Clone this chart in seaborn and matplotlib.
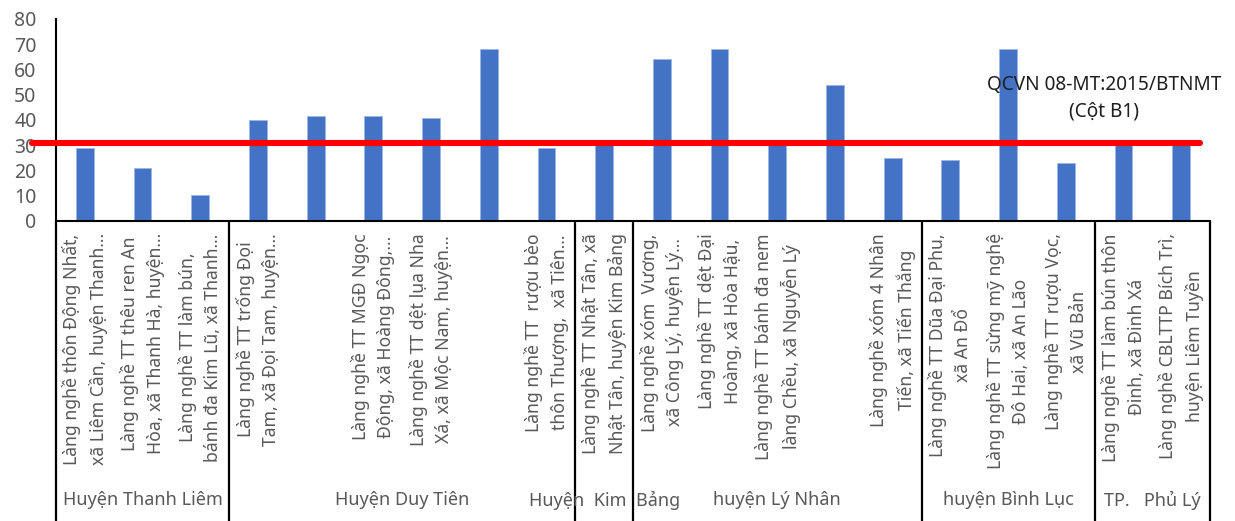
import matplotlib
matplotlib.use("Agg")
import matplotlib.pyplot as plt
import matplotlib.transforms as mtransforms
import numpy as np
import pandas as pd
import seaborn as sns

# COD measured at each craft village (mg/L)
site_labels = [
    "Làng nghề thôn Động Nhất,\nxã Liêm Cần, huyện Thanh...",
    "Làng nghề TT thêu ren An\nHòa, xã Thanh Hà, huyện...",
    "Làng nghề TT làm bún,\nbánh đa Kim Lũ, xã Thanh...",
    "Làng nghề TT trống Đọi\nTam, xã Đọi Tam, huyện...",
    "",
    "Làng nghề TT MGĐ Ngọc\nĐộng, xã Hoàng Đông,...",
    "Làng nghề TT dệt lụa Nha\nXá, xã Mộc Nam, huyện...",
    "",
    "Làng nghề TT  rượu bèo\nthôn Thượng,  xã Tiên...",
    "Làng nghề TT Nhật Tân, xã\nNhật Tân, huyện Kim Bảng",
    "Làng nghề xóm  Vương,\nxã Công Lý, huyện Lý...",
    "Làng nghề TT dệt Đại\nHoàng, xã Hòa Hậu,",
    "Làng nghề TT bánh đa nem\nlàng Chều, xã Nguyễn Lý",
    "",
    "Làng nghề xóm 4 Nhân\nTiến, xã Tiến Thắng",
    "Làng nghề TT Dũa Đại Phu,\nxã An Đổ",
    "Làng nghề TT sừng mỹ nghệ\nĐô Hai, xã An Lão",
    "Làng nghề TT rượu Vọc,\nxã Vũ Bản",
    "Làng nghề TT làm bún thôn\nĐinh, xã Đinh Xá",
    "Làng nghề CBLTTP Bích Trì,\nhuyện Liêm Tuyền",
]
cod_values = [29, 21, 10, 40, 41.7, 41.7, 40.6, 68, 29, 30,
              64, 68, 30, 54, 25, 24, 68, 23, 30, 30]

district_names = ["Huyện Thanh Liêm", "Huyện Duy Tiên", "Huyện  Kim  Bảng",
                  "huyện Lý Nhân", "huyện Bình Lục", "TP.   Phủ Lý"]
district_sizes = [3, 6, 1, 5, 3, 2]

standard_value = 30.7
standard_label = "QCVN 08-MT:2015/BTNMT\n(Cột B1)"

y_ticks = [0, 10, 20, 30, 40, 50, 60, 70, 80]

sns.set_style("white")
plt.rcParams["font.family"] = ["Noto Sans", "DejaVu Sans"]

text_gray = "#595959"

fig = plt.figure(figsize=(12.35, 5.21), dpi=100)
ax = fig.add_axes([56 / 1235, 1 - 220.7 / 521, 1154 / 1235, 201.7 / 521])

df = pd.DataFrame({"site": list(range(len(cod_values))), "cod": cod_values})
sns.barplot(data=df, x="site", y="cod", color="#4472C4", width=0.31,
            saturation=1, edgecolor="#9DB5E3", linewidth=0.6, ax=ax)

n = len(cod_values)
ax.set_xlim(-0.5, n - 0.5)
ax.set_ylim(0, 80)
ax.set_yticks(y_ticks)
ax.set_yticklabels([str(v) for v in y_ticks], color=text_gray, fontsize=14)
ax.set_xticks(range(n))
ax.set_xticklabels(site_labels, rotation=90, color=text_gray, fontsize=12.7,
                   multialignment="center", linespacing=1.52)
ax.set_xticks(np.arange(n - 1) + 0.5, minor=True)
ax.set_xlabel("")
ax.set_ylabel("")

ax.tick_params(axis="y", direction="out", length=5, width=1.4, color="black", pad=9)
ax.tick_params(axis="x", which="both", direction="out", length=3, width=1.4,
               color="black", pad=6)

for side in ("top", "right"):
    ax.spines[side].set_visible(False)
for side in ("left", "bottom"):
    ax.spines[side].set_color("black")
    ax.spines[side].set_linewidth(1.5)

# Regulation limit line
ax.axhline(standard_value, xmin=-0.021, xmax=0.991, color="#FF0000", lw=4.4,
           clip_on=False, zorder=5)
ax.text(17.66, 48.6, standard_label, ha="center", va="center", fontsize=13.7,
        color="#1f1f1f", linespacing=1.45)

# District grouping below the category labels
trans = mtransforms.blended_transform_factory(ax.transData, ax.transAxes)
bounds = np.concatenate([[0], np.cumsum(district_sizes)]) - 0.5
for b in bounds:
    ax.plot([b, b], [0, -1.5], color="black", lw=1.6, transform=trans,
            clip_on=False, solid_capstyle="butt")
for name, lo, hi in zip(district_names, bounds[:-1], bounds[1:]):
    ax.text((lo + hi) / 2, -1.385, name, transform=trans, ha="center",
            va="center", fontsize=13, color=text_gray)

fig.savefig("out.png", dpi=100)
